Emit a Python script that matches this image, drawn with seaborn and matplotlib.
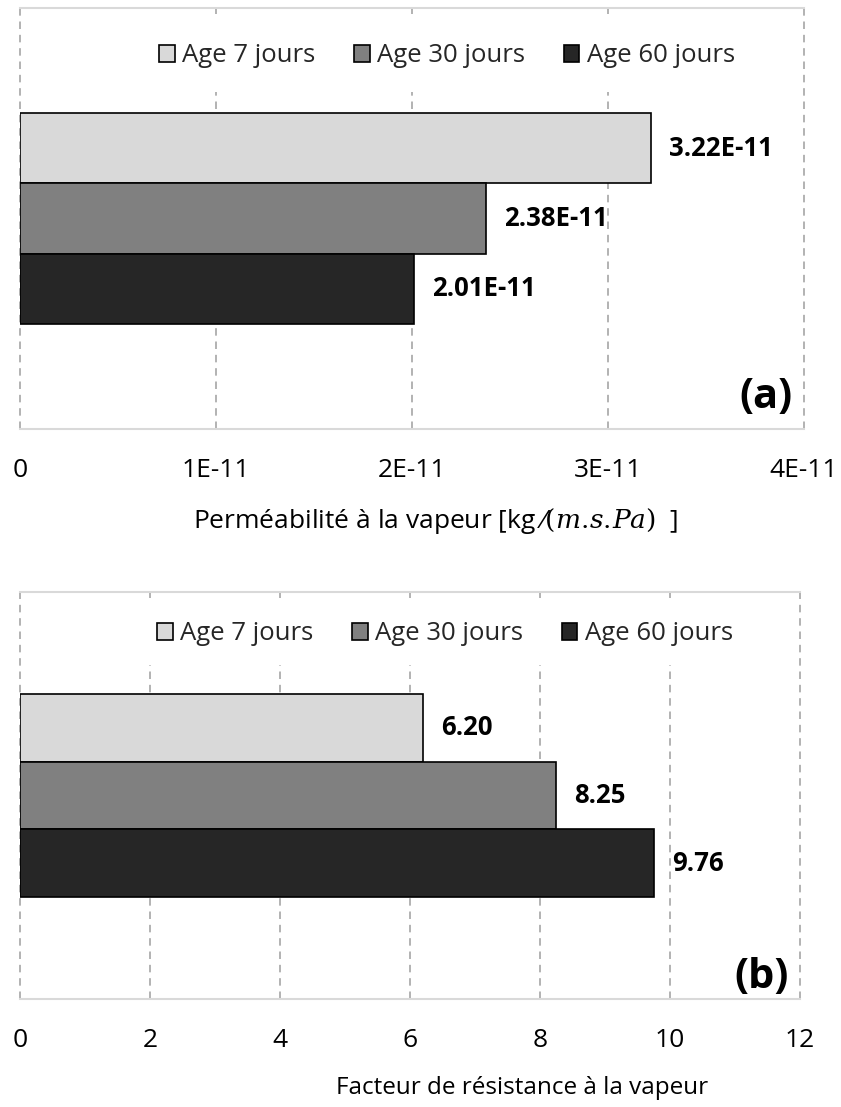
import matplotlib
matplotlib.use("Agg")
import matplotlib.pyplot as plt
import pandas as pd
import seaborn as sns
from matplotlib.patches import Rectangle

# Data
ages = ["Age 7 jours", "Age 30 jours", "Age 60 jours"]
permeabilite = [3.22e-11, 2.38e-11, 2.01e-11]
resistance = [6.20, 8.25, 9.76]
perm_ticks = [0, 1e-11, 2e-11, 3e-11, 4e-11]
perm_tick_labels = ["0", "1E-11", "2E-11", "3E-11", "4E-11"]
res_ticks = [0, 2, 4, 6, 8, 10, 12]
res_tick_labels = ["0", "2", "4", "6", "8", "10", "12"]
colors = ["#D9D9D9", "#808080", "#262626"]

sns.set_theme(style="white")
plt.rcParams["font.family"] = ["Open Sans", "DejaVu Sans"]
plt.rcParams["mathtext.fontset"] = "dejavuserif"

fig = plt.figure(figsize=(8.41, 11.07), dpi=100)
ax_a = fig.add_axes([20 / 841, 1 - 429 / 1107, 784 / 841, 421 / 1107])
ax_b = fig.add_axes([20 / 841, 1 - 999 / 1107, 780 / 841, 407 / 1107])


def draw_panel(ax, values, ticks, ticklabels, xmax, fmt, xlabel, label_x,
               label_size, tag, tag_y, legend_y, band_y0):
    df = pd.DataFrame({"groupe": [""] * len(ages), "age": ages, "valeur": values})
    sns.barplot(data=df, x="valeur", y="groupe", hue="age", hue_order=ages,
                palette=colors, orient="h", width=0.5, saturation=1,
                edgecolor="black", linewidth=1.2, legend=False, ax=ax)

    ax.set_xlim(0, xmax)
    ax.set_ylim(0.5, -0.5)
    ax.set_xticks(ticks, ticklabels)
    ax.set_yticks([])
    ax.set_ylabel("")
    ax.tick_params(axis="x", length=0, pad=21, labelsize=19, labelcolor="black")

    ax.set_axisbelow(True)
    ax.grid(axis="x", color="#A6A6A6", linestyle=(0, (4.5, 3.5)), linewidth=1.2)
    for gl in ax.get_xgridlines():
        gl.set_clip_on(False)

    for side in ("left", "right"):
        ax.spines[side].set_visible(False)
    for side in ("top", "bottom"):
        ax.spines[side].set_color("#D9D9D9")
        ax.spines[side].set_linewidth(1.5)

    # white band behind the legend
    ax.add_patch(Rectangle((0.008, band_y0), 0.984, 0.985 - band_y0,
                           transform=ax.transAxes, facecolor="white",
                           edgecolor="none", zorder=0.8))

    for container, v in zip(ax.containers, values):
        ax.bar_label(container, labels=[fmt(v)], padding=13, fontsize=18.5,
                     fontweight="bold", color="black")

    ax.legend(ax.containers, ages, ncol=3, loc="center",
              bbox_to_anchor=(0.545, legend_y), frameon=False, fontsize=18.5,
              handlelength=0.6, handleheight=0.6, handletextpad=0.3,
              columnspacing=1.5)

    ax.set_xlabel(xlabel, fontsize=label_size, color="black")
    ax.xaxis.label.set_va("center")
    ax.xaxis.set_label_coords(label_x, -0.218)

    ax.text(0.985, tag_y, tag, transform=ax.transAxes, ha="right", va="center",
            fontsize=30, fontweight="bold", color="black")


draw_panel(ax_a, permeabilite, perm_ticks, perm_tick_labels, 4e-11,
           lambda v: f"{v:.2E}",
           "Perméabilité à la vapeur [kg \u2044$(m.\\!s.\\!Pa)$  ]", 0.530, 19,
           "(a)", 0.074, 0.886, 0.80)

draw_panel(ax_b, resistance, res_ticks, res_tick_labels, 12,
           lambda v: f"{v:.2f}",
           "Facteur de résistance à la vapeur", 0.644, 17.5,
           "(b)", 0.052, 0.897, 0.82)

fig.savefig("out.png", dpi=100)
